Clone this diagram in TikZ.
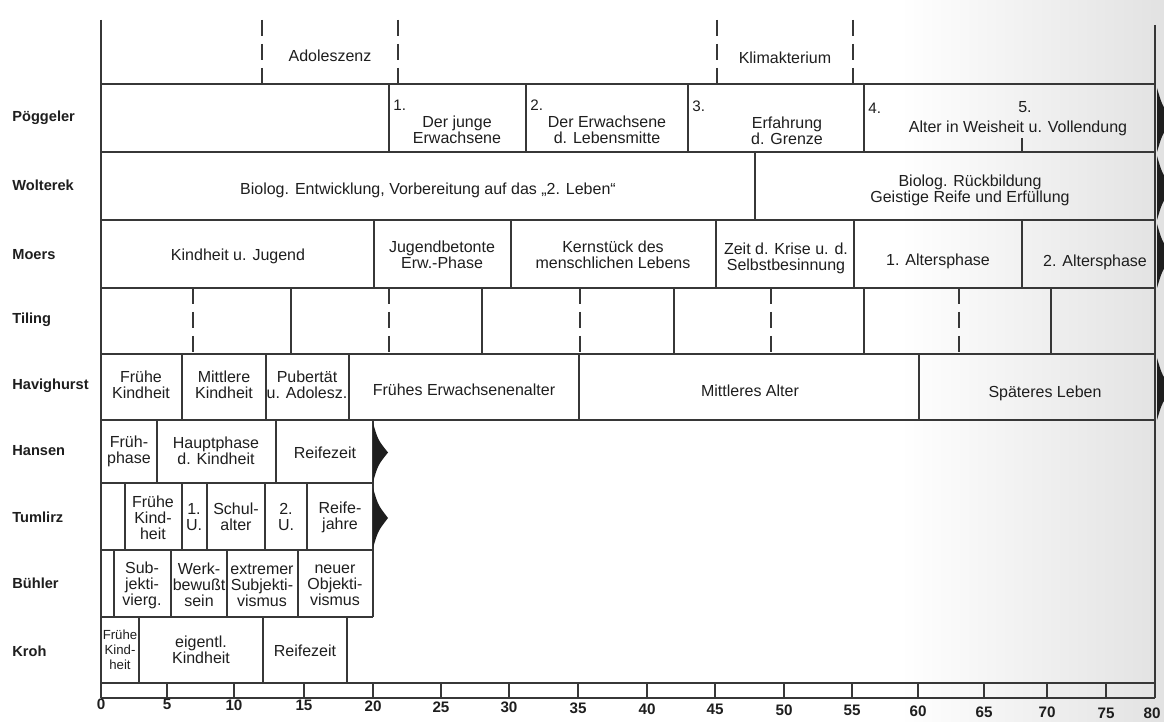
\documentclass[tikz,border=0pt]{standalone}
\usepackage{fontspec}
\setmainfont{Liberation Sans}
\usetikzlibrary{positioning}
\definecolor{ink}{RGB}{30,30,30}
\definecolor{rule}{RGB}{55,55,55}
\definecolor{paper}{RGB}{226,226,226}
\newcommand{\phasetip}[3]{\fill[ink] (#1,#2) .. controls ({#1+5},{#2+17}) .. ({#1+15},{(#2+#3)/2}) .. controls ({#1+5},{#3-17}) .. (#1,#3) -- cycle;}

\begin{document}
\begin{tikzpicture}[x=0.5pt,y=-0.5pt,
    cl/.style={font=\fontsize{8}{8}\selectfont, align=center, text=ink, inner sep=0pt},
    sm/.style={cl, font=\fontsize{6.6}{7.6}\selectfont},
    who/.style={font=\fontsize{7.3}{8}\selectfont\bfseries, anchor=west, text=ink, inner sep=0pt},
    nm/.style={font=\fontsize{7.6}{8}\selectfont, anchor=west, text=ink, inner sep=0pt},
    yr/.style={font=\fontsize{7.6}{8}\selectfont\bfseries, text=ink, inner sep=0pt},
    ln/.style={draw=rule, line width=0.9pt},
    dl/.style={ln, dash pattern=on 8pt off 4pt}
  ]
  \clip (0,0) rectangle (1164,722);
  \fill[white] (0,0) rectangle (1164,722);
  \shade[left color=white, right color=paper] (900,0) rectangle (1164,722);

  \draw[ln] (101,20) -- (101,698);
  \draw[ln] (1155,25) -- (1155,698);
  \foreach \y in {84,152,220,288,354,420,683,698}
    \draw[ln] (101,\y) -- (1155,\y);
  \foreach \y in {483,550,617}
    \draw[ln] (101,\y) -- (373,\y);

  \foreach \x in {262,398,717,853}
    \draw[dl] (\x,20) -- (\x,84);
  \foreach \x in {389,526,688,864}
    \draw[ln] (\x,84) -- (\x,152);
  \draw[ln] (1022,138) -- (1022,152);
  \draw[ln] (755,152) -- (755,220);
  \foreach \x in {374,511,716,854,1022}
    \draw[ln] (\x,220) -- (\x,288);
  \foreach \x in {291,482,674,864,1051}
    \draw[ln] (\x,288) -- (\x,354);
  \foreach \x in {193,389,580,771,959}
    \draw[dl] (\x,288) -- (\x,354);
  \foreach \x in {182,266,349,579,919}
    \draw[ln] (\x,354) -- (\x,420);
  \foreach \x in {157,276,373}
    \draw[ln] (\x,420) -- (\x,483);
  \foreach \x in {125,182,207,265,307,373}
    \draw[ln] (\x,483) -- (\x,550);
  \foreach \x in {114,171,227,298,373}
    \draw[ln] (\x,550) -- (\x,617);
  \foreach \x in {139,263,347}
    \draw[ln] (\x,617) -- (\x,683);
  \foreach \x in {167,234,304,373,441,509,578,647,715,784,852,918,984,1047,1106}
    \draw[ln] (\x,683) -- (\x,698);

  \phasetip{373}{423}{482}
  \phasetip{373}{488}{548}
  \foreach \a/\b in {88/152,156/220,224/288,358/420}
    {\phasetip{1157}{\a}{\b}}

  \node[cl] (adol) at (330,56) {Adoleszenz};
  \node[cl] (klim) at (785,58) {Klimakterium};

  \node[who] (poeg) at (12,118) {Pöggeler};
  \node[who] (wolt) at (12,185) {Wolterek};
  \node[who] (moer) at (12,255) {Moers};
  \node[who] (tili) at (12,320) {Tiling};
  \node[who] (havi) at (12,386) {Havighurst};
  \node[who] (hans) at (12,451) {Hansen};
  \node[who] (tuml) at (12,517) {Tumlirz};
  \node[who] (buhl) at (12,583) {Bühler};
  \node[who] (kroh) at (12,651) {Kroh};

  \node[nm] (n1) at (393,105) {1.};
  \node[nm] (n2) at (530,105) {2.};
  \node[nm] (n3) at (692,106) {3.};
  \node[nm] (n4) at (868,108) {4.};
  \node[cl] (n5) at (1025,107) {5.};
  \node[cl] (p1) at (457,130) {Der junge\\Erwachsene};
  \node[cl] (p2) at (607,130) {Der Erwachsene\\d. Lebensmitte};
  \node[cl] (p3) at (787,131) {Erfahrung\\d. Grenze};
  \node[cl] (p4) at (1018,128) {Alter in Weisheit u. Vollendung};

  \node[cl] (w1) at (428,190) {Biolog. Entwicklung, Vorbereitung auf das „2. Leben“};
  \node[cl] (w2) at (970,190) {Biolog. Rückbildung\\Geistige Reife und Erfüllung};

  \node[cl] (m1) at (238,256) {Kindheit u. Jugend};
  \node[cl] (m2) at (442,255) {Jugendbetonte\\Erw.-Phase};
  \node[cl] (m3) at (613,255) {Kernstück des\\menschlichen Lebens};
  \node[cl] (m4) at (786,258) {Zeit d. Krise u. d.\\Selbstbesinnung};
  \node[cl] (m5) at (938,261) {1. Altersphase};
  \node[cl] (m6) at (1095,262) {2. Altersphase};

  \node[cl] (h1) at (141,385) {Frühe\\Kindheit};
  \node[cl] (h2) at (224,385) {Mittlere\\Kindheit};
  \node[cl] (h3) at (307,385) {Pubertät\\u. Adolesz.};
  \node[cl] (h4) at (464,390) {Frühes Erwachsenenalter};
  \node[cl] (h5) at (750,391) {Mittleres Alter};
  \node[cl] (h6) at (1045,393) {Späteres Leben};

  \node[cl] (s1) at (129,451) {Früh-\\phase};
  \node[cl] (s2) at (216,451) {Hauptphase\\d. Kindheit};
  \node[cl] (s3) at (325,453) {Reifezeit};

  \node[cl] (t1) at (153,518) {Frühe\\Kind-\\heit};
  \node[cl] (t2) at (194,517) {1.\\U.};
  \node[cl] (t3) at (236,517) {Schul-\\alter};
  \node[cl] (t4) at (286,517) {2.\\U.};
  \node[cl] (t5) at (340,517) {Reife-\\jahre};

  \node[cl] (b1) at (142,585) {Sub-\\jekti-\\vierg.};
  \node[cl] (b2) at (199,585) {Werk-\\bewußt\\sein};
  \node[cl] (b3) at (262,585) {extremer\\Subjekti-\\vismus};
  \node[cl] (b4) at (335,585) {neuer\\Objekti-\\vismus};

  \node[sm] (k1) at (120,650) {Frühe\\Kind-\\heit};
  \node[cl] (k2) at (201,650) {eigentl.\\Kindheit};
  \node[cl] (k3) at (305,651) {Reifezeit};

  \foreach \x/\v in {101/0,167/5,234/10,304/15,373/20,441/25,509/30,578/35,647/40,715/45,784/50,852/55,918/60,984/65,1047/70,1106/75,1152/80}
    \node[yr] (y\v) at (\x,{704+(\x-101)*0.009}) {\v};
\end{tikzpicture}
\end{document}
